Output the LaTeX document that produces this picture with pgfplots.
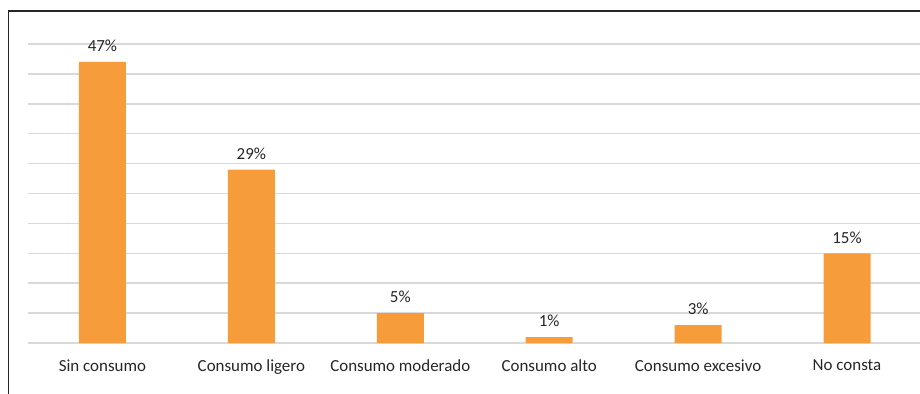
\documentclass[border=0pt]{standalone}
\usepackage{pgfplots}
\pgfplotsset{compat=1.18}
\usepackage{fontspec}
\setmainfont{Carlito}
\definecolor{barorange}{HTML}{F79C3A}
\definecolor{gridgray}{HTML}{D9D9D9}
\definecolor{txt}{HTML}{262626}
\begin{document}
\begin{tikzpicture}
\clip (0,0) rectangle (690pt,294.75pt);
\begin{axis}[
  at={(21pt,37.5pt)}, anchor=south west,
  scale only axis, width=670.1pt, height=224.25pt,
  xmin=-0.5, xmax=5.5, ymin=0, ymax=50,
  axis line style={draw=none},
  ytick={0,5,...,50}, yticklabels={},
  ymajorgrids, grid style={gridgray, line width=1.1pt},
  major tick length=0pt,
  xtick={0,1,2,3,4,5},
  xticklabels={Sin consumo, Consumo ligero, Consumo moderado, Consumo alto, Consumo excesivo, No consta},
  xticklabel style={font=\fontsize{12.7}{14}\selectfont, text=txt, yshift=-9pt},
  /pgf/number format/assume math mode=true,
  clip=false,
]
\addplot[ybar, bar width=35.25pt, fill=barorange, draw=none,
  nodes near coords={\pgfmathprintnumber{\pgfplotspointmeta}\%},
  nodes near coords style={font=\fontsize{12.7}{14}\selectfont, text=txt, yshift=4pt},
] coordinates {(0,47) (1,29) (2,5) (3,1) (4,3) (5,15)};
\end{axis}
\draw[black!85, line width=1.1pt] (6.4pt,-5pt) -- (6.4pt,286.5pt) -- (700pt,286.5pt);
\end{tikzpicture}
\end{document}
